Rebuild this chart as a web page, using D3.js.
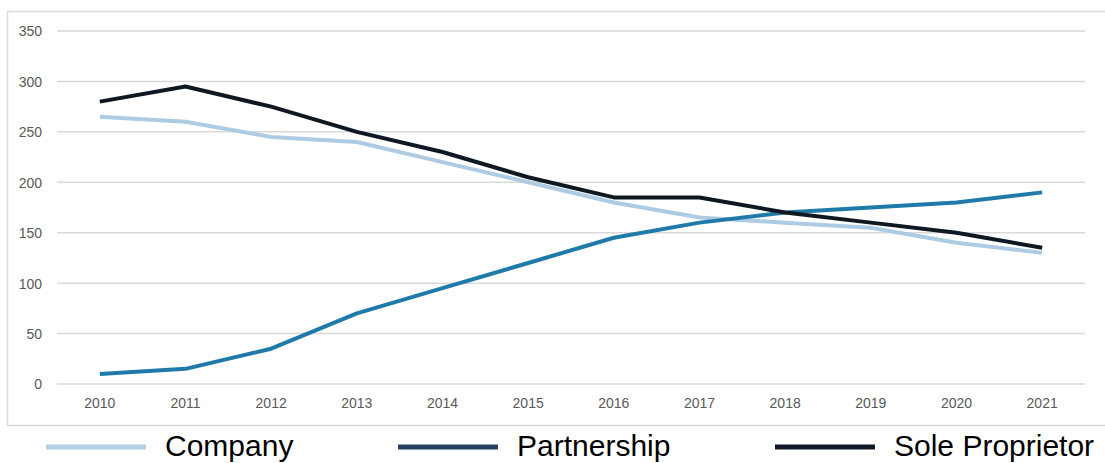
<!DOCTYPE html>
<html>
  <head>
    <meta charset="utf-8">
    <title>Business Structures Line Chart</title>
    <style>
      body { margin: 0; background: #fff; }
      .axis text { font-family: "Liberation Sans", Arial, sans-serif; font-size: 14px; fill: #595959; }
      .axis path, .axis line { display: none; }
      .grid line { stroke: #d9d9d9; stroke-width: 1.5; }
      .legend text { font-family: "Liberation Sans", Arial, sans-serif; font-size: 30px; fill: #000; }
    </style>
  </head>
  <body>
    <div class="chart"></div>
    <script src="https://d3js.org/d3.v7.min.js"></script>
    <script>
      // Chart data
      var years = ["2010", "2011", "2012", "2013", "2014", "2015", "2016", "2017", "2018", "2019", "2020", "2021"];
      var company = [265, 260, 245, 240, 220, 200, 180, 165, 160, 155, 140, 130];
      var partnership = [10, 15, 35, 70, 95, 120, 145, 160, 170, 175, 180, 190];
      var soleProprietor = [280, 295, 275, 250, 230, 205, 185, 185, 170, 160, 150, 135];
      var yTicks = [0, 50, 100, 150, 200, 250, 300, 350];

      var series = [
        {name: "Company", values: company, color: "#aecbe4", legendColor: "#b4cfe6"},
        {name: "Partnership", values: partnership, color: "#1f7aa9", legendColor: "#23405e"},
        {name: "Sole Proprietor", values: soleProprietor, color: "#0e1822", legendColor: "#0f1a26"}
      ];

      var W = 1105, H = 463;
      var plot = {left: 57, right: 1085, top: 31, bottom: 384};

      var svg = d3.select(".chart").append("svg")
        .attr("width", W)
        .attr("height", H);

      // chart frame
      svg.append("rect")
        .attr("x", 7.5).attr("y", 11.5)
        .attr("width", 1110).attr("height", 414)
        .attr("fill", "none")
        .attr("stroke", "#d9d9d9")
        .attr("stroke-width", 1.5);

      var x = d3.scaleBand().domain(years).range([plot.left, plot.right]);
      var y = d3.scaleLinear().domain([0, 350]).range([plot.bottom, plot.top]);

      // gridlines
      svg.append("g").attr("class", "grid")
        .selectAll("line").data(yTicks).enter().append("line")
        .attr("x1", plot.left).attr("x2", plot.right)
        .attr("y1", function(d) { return y(d); })
        .attr("y2", function(d) { return y(d); });

      // axes
      svg.append("g").attr("class", "axis")
        .attr("transform", "translate(" + (plot.left - 15) + ",0)")
        .call(d3.axisLeft(y).tickValues(yTicks).tickSize(0).tickPadding(0))
        .selectAll("text").attr("dy", "0.35em");

      svg.append("g").attr("class", "axis")
        .attr("transform", "translate(0," + (plot.bottom + 14) + ")")
        .call(d3.axisBottom(x).tickSize(0).tickPadding(0))
        .selectAll("text").attr("dy", "0.71em");

      // lines
      var line = d3.line()
        .x(function(d, i) { return x(years[i]) + x.bandwidth() / 2; })
        .y(function(d) { return y(d); });

      svg.selectAll(".series")
        .data(series).enter().append("path")
        .attr("class", "series")
        .attr("fill", "none")
        .attr("stroke", function(d) { return d.color; })
        .attr("stroke-width", 4)
        .attr("stroke-linejoin", "round")
        .attr("d", function(d) { return line(d.values); });

      // legend
      var legendX = [46, 398, 775];
      var lg = svg.append("g").attr("class", "legend")
        .selectAll("g").data(series).enter().append("g")
        .attr("transform", function(d, i) { return "translate(" + legendX[i] + ",447)"; });

      lg.append("line")
        .attr("x1", 0).attr("x2", 100)
        .attr("stroke", function(d) { return d.legendColor; })
        .attr("stroke-width", 5);

      lg.append("text")
        .attr("x", 119)
        .attr("dy", "0.3em")
        .text(function(d) { return d.name; });
    </script>
  </body>
</html>
